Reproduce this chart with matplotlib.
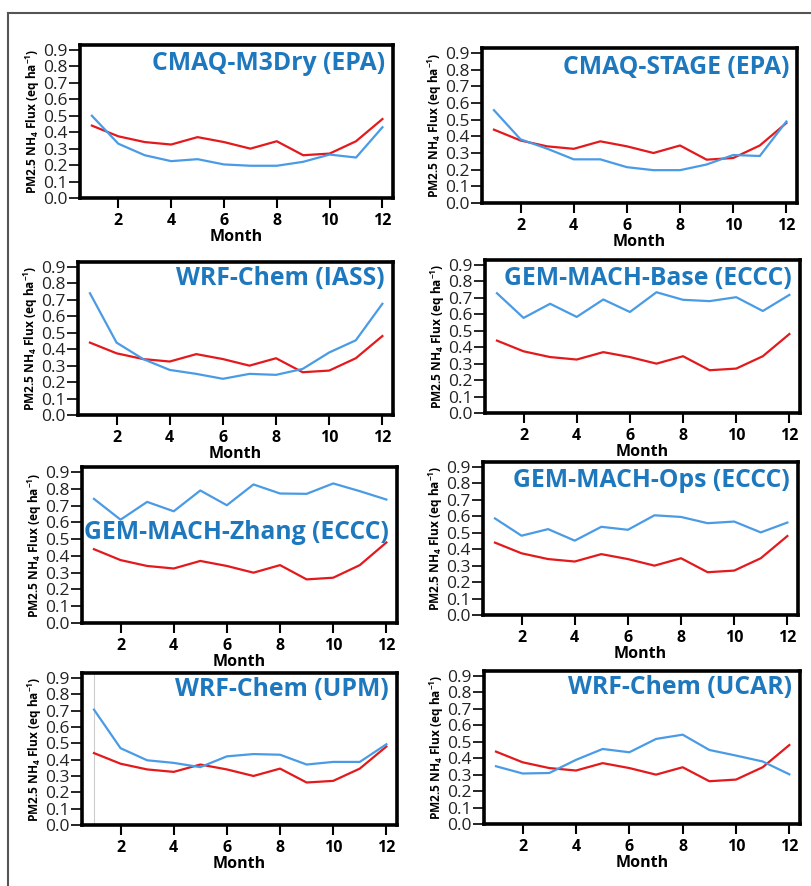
import numpy as np
import matplotlib.pyplot as plt
from matplotlib.lines import Line2D

plt.rcParams['font.family'] = ['Open Sans', 'DejaVu Sans']
plt.rcParams['mathtext.fontset'] = 'custom'
plt.rcParams['mathtext.rm'] = 'Open Sans:bold'
plt.rcParams['mathtext.default'] = 'rm'

# Monthly data
months = np.arange(1, 13)
observed = [0.44, 0.375, 0.34, 0.325, 0.37, 0.34, 0.30, 0.345, 0.26, 0.27, 0.345, 0.48]

titles = ['CMAQ-M3Dry (EPA)', 'CMAQ-STAGE (EPA)', 'WRF-Chem (IASS)',
          'GEM-MACH-Base (ECCC)', 'GEM-MACH-Zhang (ECCC)', 'GEM-MACH-Ops (ECCC)',
          'WRF-Chem (UPM)', 'WRF-Chem (UCAR)']

m3dry = [0.50, 0.33, 0.26, 0.224, 0.236, 0.204, 0.196, 0.196, 0.22, 0.264, 0.246, 0.43]
stage = [0.557, 0.382, 0.326, 0.262, 0.262, 0.215, 0.197, 0.197, 0.231, 0.288, 0.282, 0.489]
wrf_iass = [0.74, 0.44, 0.34, 0.274, 0.25, 0.22, 0.25, 0.244, 0.28, 0.38, 0.454, 0.676]
gem_base = [0.728, 0.578, 0.664, 0.584, 0.69, 0.614, 0.734, 0.688, 0.68, 0.704, 0.62, 0.718]
gem_zhang = [0.74, 0.616, 0.722, 0.666, 0.79, 0.702, 0.826, 0.772, 0.77, 0.832, 0.786, 0.736]
gem_ops = [0.587, 0.482, 0.522, 0.452, 0.536, 0.518, 0.606, 0.596, 0.558, 0.568, 0.502, 0.562]
wrf_upm = [0.706, 0.47, 0.396, 0.38, 0.354, 0.42, 0.434, 0.43, 0.37, 0.386, 0.386, 0.494]
wrf_ucar = [0.351, 0.307, 0.31, 0.39, 0.456, 0.436, 0.517, 0.543, 0.45, 0.416, 0.38, 0.302]

models = [m3dry, stage, wrf_iass, gem_base, gem_zhang, gem_ops, wrf_upm, wrf_ucar]

# Frame boxes in pixels: left, top, right, bottom
boxes = [(80, 45, 393, 198), (482, 48, 797, 203),
         (78, 262, 393, 415), (485, 260, 800, 413),
         (82, 467, 397, 623), (483, 462, 798, 615),
         (82, 673, 397, 825), (484, 671, 800, 824)]
title_y = [0.88, 0.877, 0.895, 0.88, 0.58, 0.88, 0.894, 0.889]

W, H = 812, 886
fig = plt.figure(figsize=(W / 100, H / 100), dpi=100)

# outer border (partly cut off in the original)
fig.add_artist(Line2D([8 / W, 8 / W], [0, 1 - 13 / H], transform=fig.transFigure,
                      color='#555555', lw=1.5))
fig.add_artist(Line2D([8 / W, 1], [1 - 13 / H, 1 - 13 / H], transform=fig.transFigure,
                      color='#555555', lw=1.5))

yt = np.arange(0, 0.91, 0.1)
for i, (l, t, r, b) in enumerate(boxes):
    ax = fig.add_axes([l / W, 1 - b / H, (r - l) / W, (b - t) / H])
    if i == 6:
        ax.axvline(months[0], color='#cccccc', lw=0.8)
    ax.plot(months, observed, color='#e3191c', lw=1.6)
    ax.plot(months, models[i], color='#4a9be6', lw=1.6)
    ax.set_xlim(0.55, 12.4)
    ax.set_ylim(0, 0.93)
    ax.set_xticks(range(2, 13, 2))
    ax.set_yticks(yt)
    ax.set_yticklabels([f'{v:.1f}' for v in yt])
    for s in ax.spines.values():
        s.set_linewidth(2.6)
    ax.tick_params(axis='y', direction='out', length=8, width=1.2, pad=1,
                   labelsize=12.5, labelcolor='#222222')
    ax.tick_params(axis='x', direction='out', length=7, width=1.5, pad=4,
                   labelsize=11.5)
    for lab in ax.get_xticklabels():
        lab.set_fontweight('bold')
    ax.set_xlabel('Month', fontsize=11.5, fontweight='bold', labelpad=0)
    ax.set_ylabel(r'PM2.5 NH$_4$ Flux (eq ha$^{-1}$)', fontsize=8.6,
                  fontweight='bold', labelpad=1)
    ax.text(0.975, title_y[i], titles[i], transform=ax.transAxes,
            ha='right', va='center', fontsize=17.8, fontweight='bold',
            color='#1e78be')

plt.savefig('out.png', dpi=100)
